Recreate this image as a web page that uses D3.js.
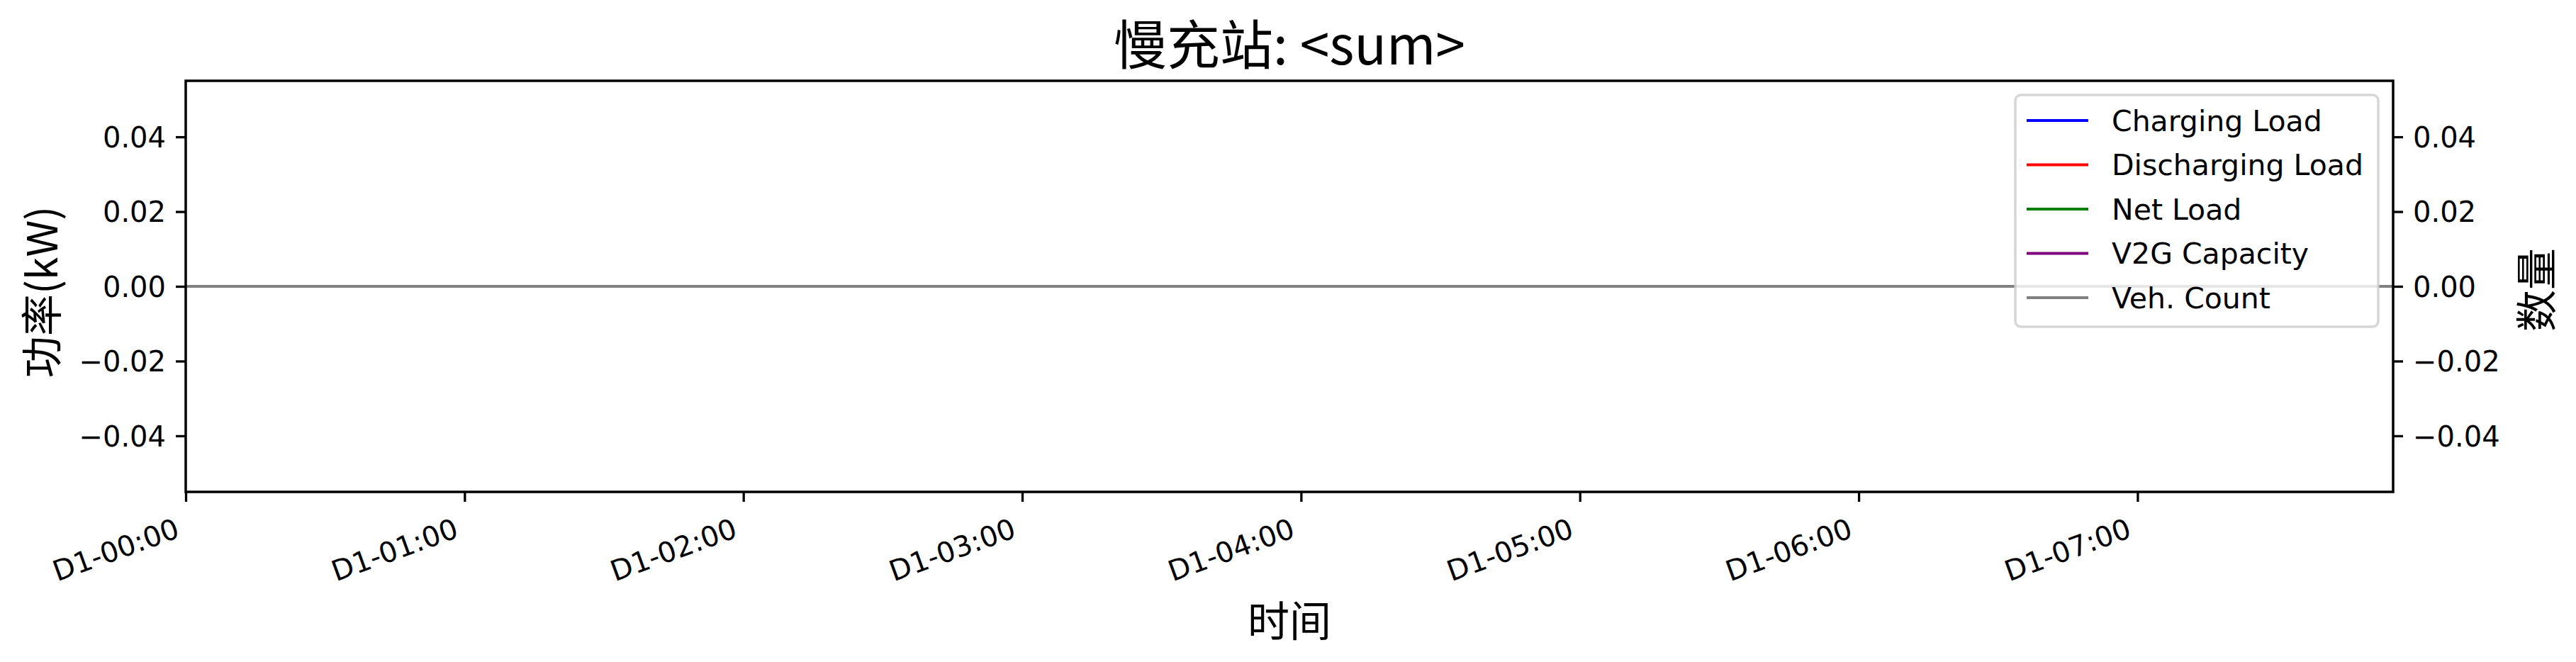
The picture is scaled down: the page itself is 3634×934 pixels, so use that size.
<!DOCTYPE html>
<html><head><meta charset="utf-8">
<script src="https://cdn.jsdelivr.net/npm/d3@7"></script>
<style>html,body{margin:0;padding:0;background:#fff;} svg{display:block;}</style>
</head><body><svg id="c" width="3634" height="934"></svg>
<script>
// ---- data (every series is flat at 0) ----
const minutes = [
  0,5,10,15,20,25,30,35,40,45,50,55,
  60,65,70,75,80,85,90,95,100,105,110,115,
  120,125,130,135,140,145,150,155,160,165,170,175,
  180,185,190,195,200,205,210,215,220,225,230,235,
  240,245,250,255,260,265,270,275,280,285,290,295,
  300,305,310,315,320,325,330,335,340,345,350,355,
  360,365,370,375,380,385,390,395,400,405,410,415,
  420,425,430,435,440,445,450,455,460,465,470,475
];
const chargingLoad = [
  0,0,0,0,0,0,0,0,0,0,0,0, 0,0,0,0,0,0,0,0,0,0,0,0,
  0,0,0,0,0,0,0,0,0,0,0,0, 0,0,0,0,0,0,0,0,0,0,0,0,
  0,0,0,0,0,0,0,0,0,0,0,0, 0,0,0,0,0,0,0,0,0,0,0,0,
  0,0,0,0,0,0,0,0,0,0,0,0, 0,0,0,0,0,0,0,0,0,0,0,0
];
const dischargingLoad = [
  0,0,0,0,0,0,0,0,0,0,0,0, 0,0,0,0,0,0,0,0,0,0,0,0,
  0,0,0,0,0,0,0,0,0,0,0,0, 0,0,0,0,0,0,0,0,0,0,0,0,
  0,0,0,0,0,0,0,0,0,0,0,0, 0,0,0,0,0,0,0,0,0,0,0,0,
  0,0,0,0,0,0,0,0,0,0,0,0, 0,0,0,0,0,0,0,0,0,0,0,0
];
const netLoad = [
  0,0,0,0,0,0,0,0,0,0,0,0, 0,0,0,0,0,0,0,0,0,0,0,0,
  0,0,0,0,0,0,0,0,0,0,0,0, 0,0,0,0,0,0,0,0,0,0,0,0,
  0,0,0,0,0,0,0,0,0,0,0,0, 0,0,0,0,0,0,0,0,0,0,0,0,
  0,0,0,0,0,0,0,0,0,0,0,0, 0,0,0,0,0,0,0,0,0,0,0,0
];
const v2gCapacity = [
  0,0,0,0,0,0,0,0,0,0,0,0, 0,0,0,0,0,0,0,0,0,0,0,0,
  0,0,0,0,0,0,0,0,0,0,0,0, 0,0,0,0,0,0,0,0,0,0,0,0,
  0,0,0,0,0,0,0,0,0,0,0,0, 0,0,0,0,0,0,0,0,0,0,0,0,
  0,0,0,0,0,0,0,0,0,0,0,0, 0,0,0,0,0,0,0,0,0,0,0,0
];
const vehCount = [
  0,0,0,0,0,0,0,0,0,0,0,0, 0,0,0,0,0,0,0,0,0,0,0,0,
  0,0,0,0,0,0,0,0,0,0,0,0, 0,0,0,0,0,0,0,0,0,0,0,0,
  0,0,0,0,0,0,0,0,0,0,0,0, 0,0,0,0,0,0,0,0,0,0,0,0,
  0,0,0,0,0,0,0,0,0,0,0,0, 0,0,0,0,0,0,0,0,0,0,0,0
];
const xTickMinutes = [0,60,120,180,240,300,360,420];
const xTickLabels = ["D1-00:00","D1-01:00","D1-02:00","D1-03:00","D1-04:00","D1-05:00","D1-06:00","D1-07:00"];
const yTicksLeft = [-0.04,-0.02,0,0.02,0.04];
const yTicksRight = [-0.04,-0.02,0,0.02,0.04];
const seriesNames = ["Charging Load","Discharging Load","Net Load","V2G Capacity","Veh. Count"];
const titleText = "慢充站: <sum>";
const xLabelText = "时间";
const yLabelLeftText = "功率(kW)";
const yLabelRightText = "数量";

// ---- styles / layout ----
const seriesColors = ["blue","red","green","purple","gray"];
const W = 3634, H = 934;
const L = 262, R = 3376, T = 114, B = 694;
const latin = "'DejaVu Sans', sans-serif";
const cjk = "'Noto Sans CJK SC', sans-serif";

const svg = d3.select("#c");
svg.append("rect").attr("width", W).attr("height", H).attr("fill", "#fff");

const x = d3.scaleLinear().domain([minutes[0], minutes[minutes.length-1]]).range([L, R]);
const yL = d3.scaleLinear().domain([-0.055, 0.055]).range([B, T]);
const yR = d3.scaleLinear().domain([-0.055, 0.055]).range([B, T]);

// lines (left axis series, then right axis vehicle count on top)
const leftSeries = [chargingLoad, dischargingLoad, netLoad, v2gCapacity];
leftSeries.forEach((vals, i) => {
  const line = d3.line().x((d, j) => x(minutes[j])).y(d => yL(d));
  svg.append("path").datum(vals).attr("d", line)
    .attr("fill", "none").attr("stroke", seriesColors[i]).attr("stroke-width", 4);
});
const lineR = d3.line().x((d, j) => x(minutes[j])).y(d => yR(d));
svg.append("path").datum(vehCount).attr("d", lineR)
  .attr("fill", "none").attr("stroke", seriesColors[4]).attr("stroke-width", 4);

// axes
function styleAxis(g) {
  g.select(".domain").remove();
  g.selectAll(".tick line").attr("stroke", "#000").attr("stroke-width", 3.3);
  g.selectAll(".tick text").attr("fill", "#000").style("font-family", latin).style("font-size", "40px");
}
const gx = svg.append("g").attr("transform", `translate(0,${B})`)
  .call(d3.axisBottom(x).tickValues(xTickMinutes).tickFormat((d, i) => xTickLabels[i]).tickSize(14))
  .call(styleAxis);
gx.selectAll(".tick text")
  .attr("text-anchor", "end").attr("x", -7).attr("y", 63).attr("dy", null)
  .attr("transform", "rotate(-20,-7,63)");

const gyl = svg.append("g").attr("transform", `translate(${L},0)`)
  .call(d3.axisLeft(yL).tickValues(yTicksLeft).tickFormat(d3.format(".2f")).tickSize(14).tickPadding(14))
  .call(styleAxis);
gyl.selectAll(".tick text").attr("dy", "0.36em");

const gyr = svg.append("g").attr("transform", `translate(${R},0)`)
  .call(d3.axisRight(yR).tickValues(yTicksRight).tickFormat(d3.format(".2f")).tickSize(14).tickPadding(14))
  .call(styleAxis);
gyr.selectAll(".tick text").attr("dy", "0.36em");

// frame
svg.append("rect").attr("x", L).attr("y", T).attr("width", R - L).attr("height", B - T)
  .attr("fill", "none").attr("stroke", "#000").attr("stroke-width", 3.5);

// legend
const lg = svg.append("g").attr("transform", "translate(2843,134)");
lg.append("rect").attr("width", 512).attr("height", 327).attr("rx", 8).attr("ry", 8)
  .attr("fill", "#fff").attr("fill-opacity", 0.8)
  .attr("stroke", "#cccccc").attr("stroke-opacity", 0.8).attr("stroke-width", 3.5);
seriesNames.forEach((name, i) => {
  const yy = 36 + i * 62.5;
  lg.append("line").attr("x1", 16).attr("x2", 103).attr("y1", yy).attr("y2", yy)
    .attr("stroke", seriesColors[i]).attr("stroke-width", 4);
  lg.append("text").attr("x", 136).attr("y", yy).attr("dy", "0.36em")
    .style("font-family", latin).style("font-size", "41px").attr("fill", "#000").text(name);
});

// titles / labels
svg.append("text").attr("x", (L + R) / 2).attr("y", 91).attr("text-anchor", "middle")
  .style("font-family", cjk).style("font-size", "75px").attr("fill", "#000").text(titleText);
svg.append("text").attr("x", (L + R) / 2).attr("y", 898).attr("text-anchor", "middle")
  .style("font-family", cjk).style("font-size", "59px").attr("fill", "#000").text(xLabelText);
svg.append("text").attr("transform", "translate(59,412) rotate(-90)").attr("text-anchor", "middle")
  .attr("dy", "0.38em").style("font-family", cjk).style("font-size", "59px").attr("fill", "#000").text(yLabelLeftText);
svg.append("text").attr("transform", "translate(3578,409) rotate(-90)").attr("text-anchor", "middle")
  .attr("dy", "0.38em").style("font-family", cjk).style("font-size", "59px").attr("fill", "#000").text(yLabelRightText);
</script>
</body></html>
